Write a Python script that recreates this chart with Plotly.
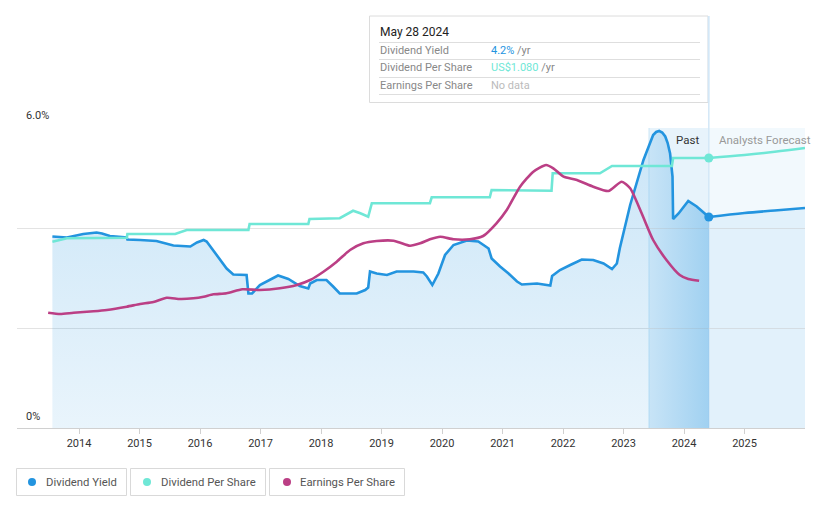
import plotly.graph_objects as go

# ---------------- data ----------------
years = [2014, 2015, 2016, 2017, 2018, 2019, 2020, 2021, 2022, 2023, 2024, 2025]
year_labels = [str(y) for y in years]

band_start = 2023.42   # one year before "today"
today = 2024.41        # May 28 2024

yield_x = [2013.56, 2013.80, 2014.07, 2014.29, 2014.38, 2014.51, 2014.79, 2014.80, 2015.01, 2015.28,
           2015.56, 2015.84, 2015.95, 2016.06, 2016.11, 2016.28, 2016.44, 2016.55, 2016.77, 2016.80,
           2016.86, 2016.99, 2017.29, 2017.46, 2017.65, 2017.79, 2017.82, 2017.93, 2018.09, 2018.20,
           2018.31, 2018.59, 2018.73, 2018.78, 2018.81, 2018.92, 2019.09, 2019.25, 2019.53, 2019.69,
           2019.75, 2019.84, 2019.94, 2020.05, 2020.19, 2020.41, 2020.60, 2020.77, 2020.82, 2020.96,
           2021.10, 2021.24, 2021.32, 2021.57, 2021.79, 2021.82, 2021.95, 2022.12, 2022.31, 2022.50,
           2022.67, 2022.81, 2022.89, 2022.94, 2023.11, 2023.33, 2023.42, 2023.49, 2023.54, 2023.59,
           2023.64, 2023.69, 2023.73, 2023.77, 2023.81, 2023.82, 2023.91, 2024.07, 2024.21, 2024.41]
yield_v = [3.83, 3.81, 3.88, 3.91, 3.89, 3.84, 3.81, 3.77, 3.76, 3.74,
           3.65, 3.63, 3.71, 3.76, 3.73, 3.46, 3.19, 3.07, 3.06, 2.69,
           2.69, 2.86, 3.05, 2.98, 2.84, 2.79, 2.89, 2.96, 2.96, 2.83,
           2.69, 2.69, 2.76, 2.81, 3.13, 3.09, 3.06, 3.13, 3.13, 3.11,
           3.03, 2.86, 3.09, 3.46, 3.66, 3.75, 3.73, 3.59, 3.39, 3.23,
           3.09, 2.93, 2.87, 2.89, 2.85, 3.04, 3.16, 3.26, 3.37, 3.36,
           3.29, 3.18, 3.29, 3.60, 4.46, 5.36, 5.64, 5.86, 5.92, 5.94,
           5.91, 5.83, 5.70, 5.49, 5.03, 4.18, 4.29, 4.54, 4.43, 4.22]
yield_fc_x = [2024.41, 2025.0, 2025.5, 2026.0]
yield_fc_v = [4.22, 4.30, 4.35, 4.40]

dps_x = [2013.56, 2013.80, 2014.79, 2014.80, 2015.59, 2015.78, 2016.80, 2016.82, 2017.79, 2017.81,
         2018.31, 2018.53, 2018.65, 2018.78, 2018.84, 2019.80, 2019.83, 2020.79, 2020.82, 2021.81,
         2021.83, 2022.61, 2022.81, 2023.80, 2023.82, 2024.41]
dps_v = [0.745, 0.759, 0.761, 0.776, 0.776, 0.792, 0.792, 0.816, 0.816, 0.836,
         0.839, 0.869, 0.859, 0.845, 0.899, 0.899, 0.923, 0.923, 0.952, 0.949,
         1.019, 1.019, 1.048, 1.048, 1.080, 1.080]
dps_fc_x = [2024.41, 2025.0, 2025.5, 2026.0]
dps_fc_v = [1.080, 1.092, 1.105, 1.120]

eps_x = [2013.49, 2013.69, 2013.91, 2014.24, 2014.46, 2014.79, 2015.01, 2015.23, 2015.45, 2015.67,
         2015.89, 2016.06, 2016.22, 2016.44, 2016.70, 2016.99, 2017.32, 2017.60, 2017.82, 2018.04,
         2018.26, 2018.48, 2018.70, 2018.92, 2019.20, 2019.31, 2019.47, 2019.64, 2019.80, 2019.97,
         2020.19, 2020.46, 2020.68, 2020.90, 2021.07, 2021.29, 2021.51, 2021.72, 2021.84, 2022.01,
         2022.23, 2022.50, 2022.75, 2022.97, 2023.11, 2023.30, 2023.49, 2023.71, 2023.93, 2024.07,
         2024.25]
eps_v = [1.153, 1.140, 1.153, 1.167, 1.180, 1.213, 1.240, 1.260, 1.303, 1.290,
         1.297, 1.313, 1.337, 1.347, 1.387, 1.380, 1.397, 1.430, 1.480, 1.563,
         1.663, 1.780, 1.847, 1.870, 1.873, 1.853, 1.823, 1.847, 1.887, 1.913,
         1.887, 1.887, 1.920, 2.047, 2.180, 2.413, 2.563, 2.630, 2.597, 2.513,
         2.480, 2.413, 2.370, 2.463, 2.397, 2.147, 1.880, 1.680, 1.530, 1.490,
         1.473]

assert len(yield_x) == len(yield_v) and len(dps_x) == len(dps_v) and len(eps_x) == len(eps_v)

# ---------------- styling ----------------
BLUE = "#2394df"
TEAL = "#6fe7d6"
MAG = "#bb3f85"
FONT = "Roboto, sans-serif"

W, H = 821, 508
L, R, T, B = 17, 16, 128, 80
PW, PH = W - L - R, H - T - B


def px(x):
    return (x - L) / PW


def py(y):
    return (H - B - y) / PH


bi = yield_x.index(band_start)

fig = go.Figure()

# past area (vertical gradient)
fig.add_trace(go.Scatter(
    x=yield_x[:bi + 1], y=yield_v[:bi + 1], mode="lines", line=dict(width=0),
    fill="tozeroy",
    fillgradient=dict(type="vertical", start=0, stop=6,
                      colorscale=[[0, "rgba(35,148,223,0.10)"], [1, "rgba(35,148,223,0.24)"]]),
    hoverinfo="skip", showlegend=False))
# last-year band area (horizontal gradient)
fig.add_trace(go.Scatter(
    x=yield_x[bi:], y=yield_v[bi:], mode="lines", line=dict(width=0),
    fill="tozeroy",
    fillgradient=dict(type="horizontal", start=band_start, stop=today,
                      colorscale=[[0, "rgba(35,148,223,0.16)"], [1, "rgba(35,148,223,0.36)"]]),
    hoverinfo="skip", showlegend=False))
# forecast area
fig.add_trace(go.Scatter(
    x=yield_fc_x, y=yield_fc_v, mode="lines", line=dict(width=0),
    fill="tozeroy", fillcolor="rgba(35,148,223,0.07)",
    hoverinfo="skip", showlegend=False))

# lines
fig.add_trace(go.Scatter(x=eps_x, y=eps_v, mode="lines", yaxis="y3",
                         line=dict(color=MAG, width=2.6, shape="spline", smoothing=0.6),
                         hoverinfo="skip", showlegend=False))
fig.add_trace(go.Scatter(x=dps_x, y=dps_v, mode="lines", yaxis="y2",
                         line=dict(color=TEAL, width=2.6),
                         hoverinfo="skip", showlegend=False))
fig.add_trace(go.Scatter(x=dps_fc_x, y=dps_fc_v, mode="lines", yaxis="y2",
                         line=dict(color=TEAL, width=2.6, shape="spline"),
                         hoverinfo="skip", showlegend=False))
fig.add_trace(go.Scatter(x=yield_x, y=yield_v, mode="lines",
                         line=dict(color=BLUE, width=2.6),
                         hoverinfo="skip", showlegend=False))
fig.add_trace(go.Scatter(x=yield_fc_x, y=yield_fc_v, mode="lines",
                         line=dict(color=BLUE, width=2.6, shape="spline"),
                         hoverinfo="skip", showlegend=False))
# today markers
fig.add_trace(go.Scatter(x=[today], y=[dps_fc_v[0]], mode="markers", yaxis="y2",
                         marker=dict(color=TEAL, size=9), hoverinfo="skip", showlegend=False))
fig.add_trace(go.Scatter(x=[today], y=[yield_fc_v[0]], mode="markers",
                         marker=dict(color=BLUE, size=9), hoverinfo="skip", showlegend=False))

shapes = [
    # last-year band & forecast region backgrounds
    dict(type="rect", xref="x", yref="paper", x0=band_start, x1=today, y0=0, y1=1,
         fillcolor="rgba(35,148,223,0.11)", line=dict(width=0), layer="below"),
    dict(type="rect", xref="x", yref="paper", x0=today, x1=2026.0, y0=0, y1=1,
         fillcolor="rgba(35,148,223,0.06)", line=dict(width=0), layer="below"),
    dict(type="line", xref="x", yref="paper", x0=band_start, x1=band_start, y0=0, y1=1,
         line=dict(color="rgba(35,148,223,0.18)", width=1), layer="below"),
    dict(type="line", xref="x", yref="paper", x0=today, x1=today, y0=0, y1=py(16),
         line=dict(color="#d3e7f7", width=1.5), layer="below"),
    # tooltip box
    dict(type="rect", xref="paper", yref="paper", x0=px(369.5), x1=px(708), y0=py(102.5), y1=py(16),
         fillcolor="white", line=dict(color="#dcdcdc", width=1)),
    dict(type="line", xref="paper", yref="paper", x0=px(708.5), x1=px(708.5), y0=py(102.5), y1=py(16),
         line=dict(color="#d3e7f7", width=1.5)),
]
for yy in [42.5, 59.5, 77.5, 94.5]:
    shapes.append(dict(type="line", xref="paper", yref="paper", x0=px(379), x1=px(700),
                       y0=py(yy), y1=py(yy), line=dict(color="#dedede", width=1)))

# legend boxes
legend_items = [("Dividend Yield", BLUE, 16.5, 126.5, 32, 44),
                ("Dividend Per Share", TEAL, 130.5, 265.5, 147, 159),
                ("Earnings Per Share", MAG, 269.5, 404.5, 287, 298)]
annotations = []
for name, col, bx0, bx1, dotx, tx in legend_items:
    shapes.append(dict(type="rect", xref="paper", yref="paper", x0=px(bx0), x1=px(bx1),
                       y0=py(495.5), y1=py(468.5), fillcolor="white",
                       line=dict(color="#d9d9d9", width=1)))
    shapes.append(dict(type="circle", xref="paper", yref="paper", x0=px(dotx - 4), x1=px(dotx + 4),
                       y0=py(486), y1=py(478), fillcolor=col, line=dict(width=0)))
    annotations.append(dict(xref="paper", yref="paper", x=px(tx), y=py(482), text=name,
                            showarrow=False, xanchor="left", yanchor="middle",
                            font=dict(family=FONT, size=11.3, color="#555")))

# y labels
annotations.append(dict(xref="paper", yref="paper", x=px(24), y=py(116), text="6.0%", showarrow=False,
                        xanchor="left", yanchor="middle", font=dict(family=FONT, size=11, color="#333")))
annotations.append(dict(xref="paper", yref="paper", x=px(24), y=py(416), text="0%", showarrow=False,
                        xanchor="left", yanchor="middle", font=dict(family=FONT, size=11, color="#333")))
# Past / Forecast labels
annotations.append(dict(xref="paper", yref="paper", x=px(701), y=py(140), text="Past", showarrow=False,
                        xanchor="right", yanchor="middle", font=dict(family=FONT, size=11.5, color="#333")))
annotations.append(dict(xref="paper", yref="paper", x=px(717), y=py(140), text="Analysts Forecast",
                        showarrow=False, xanchor="left", yanchor="middle",
                        font=dict(family=FONT, size=11.5, color="#999")))
# tooltip text
annotations.append(dict(xref="paper", yref="paper", x=px(378), y=py(32), text="May 28 2024", showarrow=False,
                        xanchor="left", yanchor="middle", font=dict(family=FONT, size=12, color="#222")))
rows = [("Dividend Yield", f"<span style='color:{BLUE}'>4.2%</span> /yr", 50.5),
        ("Dividend Per Share", f"<span style='color:{TEAL}'>US$1.080</span> /yr", 67.5),
        ("Earnings Per Share", "<span style='color:#bbbbbb'>No data</span>", 85)]
for lab, val, yy in rows:
    annotations.append(dict(xref="paper", yref="paper", x=px(378), y=py(yy), text=lab, showarrow=False,
                            xanchor="left", yanchor="middle", font=dict(family=FONT, size=11, color="#888")))
    annotations.append(dict(xref="paper", yref="paper", x=px(489), y=py(yy), text=val, showarrow=False,
                            xanchor="left", yanchor="middle", font=dict(family=FONT, size=11, color="#888")))

fig.update_layout(
    width=W, height=H,
    margin=dict(l=L, r=R, t=T, b=B),
    paper_bgcolor="white", plot_bgcolor="white",
    font=dict(family=FONT),
    xaxis=dict(range=[2012.975, 2026.0], tickvals=years, ticktext=year_labels,
               showgrid=False, zeroline=False, showline=True, linecolor="#d0d0d0", linewidth=1,
               ticks="outside", ticklen=5, tickcolor="#d0d0d0",
               tickfont=dict(family=FONT, size=11, color="#333"), fixedrange=True),
    yaxis=dict(range=[0, 6], tickvals=[0, 2, 4, 6], showticklabels=False, showgrid=True,
               gridcolor="#e3e3e3", zeroline=False, fixedrange=True),
    yaxis2=dict(range=[0, 1.2], overlaying="y", visible=False, fixedrange=True),
    yaxis3=dict(range=[0, 3.0], overlaying="y", visible=False, fixedrange=True),
    shapes=shapes, annotations=annotations, showlegend=False,
)

fig.write_html("out.html")
